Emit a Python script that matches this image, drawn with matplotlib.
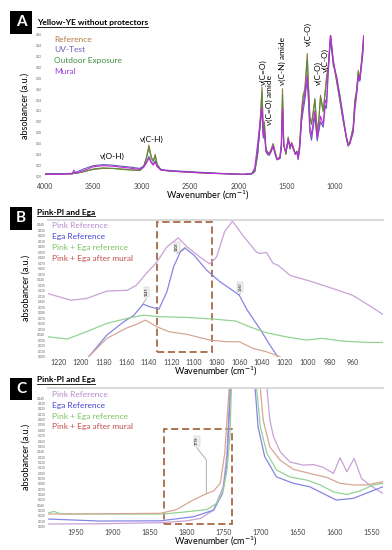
import matplotlib
matplotlib.use('Agg')
import matplotlib.pyplot as plt
from matplotlib.patches import Rectangle
from matplotlib.lines import Line2D

plt.rcParams['font.family'] = ['Lato', 'DejaVu Sans']

W, H = 392, 550

# ---- Panel A: Yellow-YE without protectors ----
wn_a = [4000, 3850, 3720, 3700, 3680, 3600, 3500, 3400, 3300, 3200, 3100, 3020,
        2980, 2950, 2925, 2900, 2880, 2860, 2840, 2800, 2700, 2500, 2300, 2100,
        1950, 1860, 1830, 1800, 1775, 1755, 1742, 1730, 1715, 1700, 1680, 1660,
        1640, 1620, 1600, 1570, 1555, 1543, 1530, 1508, 1484, 1465, 1450, 1432,
        1410, 1395, 1381, 1365, 1346, 1330, 1312, 1300, 1287, 1275, 1260, 1243,
        1225, 1208, 1184, 1165, 1150, 1122, 1100, 1088, 1070, 1046, 1019, 984,
        950, 915, 881, 864, 846, 812, 795, 777, 760, 743, 715, 702]
ref_a = [.004, .004, .004, .005, .005, .008, .012, .014, .014, .013, .011, .011,
         .018, .035, .057, .035, .028, .040, .022, .011, .009, .007, .005, .004,
         .003, .004, .008, .040, .100, .164, .080, .100, .050, .045, .042, .050,
         .060, .045, .032, .035, .060, .161, .060, .040, .072, .050, .062, .054,
         .040, .046, .035, .060, .120, .150, .160, .190, .226, .170, .110, .097,
         .120, .143, .078, .110, .149, .121, .160, .183, .200, .260, .213, .177,
         .140, .103, .072, .060, .063, .090, .140, .158, .195, .180, .232, .263]
uv_a = [.004, .004, .005, .006, .007, .013, .019, .021, .020, .018, .016, .014,
        .018, .026, .036, .026, .022, .028, .018, .012, .010, .008, .006, .004,
        .003, .004, .010, .045, .090, .122, .070, .080, .045, .040, .038, .045,
        .055, .040, .030, .032, .050, .120, .055, .045, .065, .055, .060, .050,
        .042, .045, .030, .050, .100, .120, .140, .160, .175, .140, .080, .066,
        .090, .110, .065, .085, .100, .090, .130, .125, .190, .255, .205, .185,
        .150, .110, .070, .055, .060, .080, .120, .150, .180, .175, .220, .250]
out_a = [.004, .004, .004, .005, .005, .008, .013, .015, .014, .012, .011, .010,
         .016, .033, .052, .033, .027, .037, .021, .011, .009, .007, .005, .004,
         .003, .004, .008, .040, .095, .155, .078, .095, .050, .044, .040, .048,
         .058, .044, .031, .034, .058, .150, .058, .040, .070, .050, .060, .052,
         .040, .045, .034, .058, .115, .145, .155, .185, .215, .165, .105, .095,
         .115, .140, .080, .108, .145, .118, .155, .175, .200, .255, .210, .175,
         .140, .100, .070, .058, .062, .088, .135, .155, .190, .178, .225, .255]
mur_a = [.003, .003, .004, .011, .005, .010, .017, .019, .018, .016, .014, .012,
         .016, .024, .033, .024, .020, .026, .017, .011, .009, .007, .005, .004,
         .003, .005, .015, .060, .100, .128, .075, .085, .048, .042, .040, .046,
         .056, .042, .030, .033, .052, .125, .056, .044, .068, .052, .060, .050,
         .040, .044, .032, .055, .105, .130, .150, .170, .185, .150, .090, .075,
         .100, .120, .070, .090, .110, .095, .140, .135, .200, .262, .215, .180,
         .145, .105, .068, .056, .060, .085, .130, .150, .185, .178, .230, .263]
names_a = ['Reference', 'UV-Test', 'Outdoor Exposure', 'Mural']
line_colors_a = ['#9C7448', '#5F5FAE', '#5A8C3C', '#C02CD8']
text_colors_a = ['#B07A40', '#6B5FB5', '#3F8F3F', '#9B3FE0']

# ---- Panel B: Pink-PI and Ega (1230-930 cm-1) ----
pink_b_wn = [1229, 1209, 1195, 1177, 1159, 1151, 1142, 1133, 1124, 1114, 1106,
             1095, 1086, 1080, 1073, 1066, 1057, 1045, 1042, 1036, 1030, 1026,
             1015, 998, 977, 960, 948, 933]
pink_b = [0.115, 0.103, 0.106, 0.1195, 0.121, 0.130, 0.152, 0.172, 0.200, 0.2165,
          0.200, 0.182, 0.169, 0.182, 0.2275, 0.247, 0.2215, 0.191, 0.188, 0.190,
          0.170, 0.167, 0.148, 0.138, 0.124, 0.112, 0.097, 0.077]
ega_b_wn = [1193, 1177, 1162, 1153, 1145, 1139, 1131, 1124, 1118, 1112, 1108,
            1100, 1089, 1077, 1065, 1060, 1053, 1042, 1033, 1026]
ega_b = [0.0, 0.0395, 0.0637, 0.0758, 0.0958, 0.091, 0.0867, 0.118, 0.164, 0.191,
         0.198, 0.185, 0.158, 0.1365, 0.1195, 0.112, 0.085, 0.0516, 0.0213, 0.0]
mix_b_wn = [1229, 1212, 1195, 1177, 1159, 1145, 1130, 1106, 1083, 1063, 1051,
            1036, 1019, 1001, 987, 969, 948, 933]
mix_b = [0.0364, 0.0322, 0.0455, 0.0607, 0.0698, 0.0758, 0.0728, 0.0716, 0.0686,
         0.0649, 0.0546, 0.0437, 0.0364, 0.0303, 0.0334, 0.0285, 0.026, 0.026]
mural_b_wn = [1193, 1177, 1159, 1151, 1143, 1133, 1122, 1106, 1086, 1071, 1060,
              1048, 1036, 1024]
mural_b = [0.0, 0.0334, 0.0528, 0.0588, 0.0667, 0.0546, 0.0455, 0.0406, 0.0303,
           0.0273, 0.0273, 0.0152, 0.009, 0.0]

# ---- Panel C: Pink-PI and Ega (1990-1535 cm-1) ----
pink_c_wn = [1987, 1918, 1836, 1800, 1782, 1764, 1751, 1746, 1742, 1725, 1692,
             1688, 1683, 1674, 1661, 1643, 1629, 1616, 1602, 1593, 1584, 1574,
             1564, 1553, 1535]
pink_c = [0.005, 0.0055, 0.0075, 0.011, 0.0155, 0.031, 0.075, 0.137, 0.26, 0.6,
          0.26, 0.199, 0.168, 0.14, 0.121, 0.115, 0.116, 0.111, 0.0995, 0.129,
          0.1026, 0.1275, 0.090, 0.0778, 0.062]
ega_c_wn = [1987, 1918, 1836, 1791, 1764, 1752, 1746, 1741, 1725, 1708, 1704,
            1695, 1679, 1656, 1634, 1616, 1598, 1575, 1553, 1535]
ega_c = [0.0143, 0.0106, 0.011, 0.0187, 0.031, 0.062, 0.118, 0.26, 0.6, 0.26,
         0.187, 0.131, 0.093, 0.081, 0.0746, 0.062, 0.0498, 0.053, 0.065, 0.0746]
mix_c_wn = [1987, 1980, 1970, 1832, 1800, 1773, 1760, 1751, 1746, 1742, 1740,
            1725, 1706, 1701, 1692, 1679, 1661, 1638, 1620, 1602, 1584, 1566,
            1548, 1535]
mix_c = [0.026, 0.0285, 0.0236, 0.0236, 0.028, 0.032, 0.0435, 0.068, 0.106, 0.168,
         0.26, 0.6, 0.26, 0.187, 0.137, 0.106, 0.093, 0.087, 0.078, 0.065, 0.060,
         0.067, 0.078, 0.081]
mural_c_wn = [1987, 1836, 1814, 1796, 1778, 1764, 1755, 1749, 1743, 1725, 1701,
              1697, 1688, 1674, 1656, 1634, 1611, 1593, 1575, 1557, 1535]
mural_c = [0.0236, 0.025, 0.032, 0.0467, 0.059, 0.067, 0.081, 0.137, 0.26, 0.6,
           0.26, 0.199, 0.149, 0.124, 0.107, 0.0995, 0.092, 0.081, 0.078, 0.078,
           0.084]

names_bc = ['Pink Reference', 'Ega Reference', 'Pink + Ega reference',
            'Pink + Ega after mural']
line_colors_bc = ['#C8A2D6', '#8585E6', '#94D394', '#D6A797']
text_colors_bc = ['#B98ACB', '#4545D2', '#7CC35F', '#C0504D']

fig = plt.figure(figsize=(W / 100, H / 100), dpi=100)


def px_axes(l, t, r, b):
    return fig.add_axes([l / W, 1 - b / H, (r - l) / W, (b - t) / H])


def fig_text(x, y, s, **kw):
    return fig.text(x / W, 1 - y / H, s, **kw)


def panel_head(letter, y_box, title, y_title):
    fig.add_artist(Rectangle((10 / W, 1 - (y_box + 22) / H), 22 / W, 22 / H,
                             transform=fig.transFigure, fc='black', ec='none'))
    fig_text(21, y_box + 11, letter, color='white', fontsize=11, fontweight='bold',
             ha='center', va='center')
    return fig_text(37, y_title, title, fontsize=6.0, fontweight='bold',
                    ha='left', va='center')


def style_axes(ax, top_line, xpad):
    for side in ['left', 'right', 'bottom']:
        ax.spines[side].set_visible(False)
    if top_line:
        ax.spines['top'].set_color('#D9D9D9')
        ax.spines['top'].set_linewidth(1.4)
    else:
        ax.spines['top'].set_visible(False)
    ax.tick_params(length=0)
    ax.tick_params(axis='x', labelsize=5, pad=xpad, colors='#404040')
    ax.tick_params(axis='y', labelsize=2.2, pad=2, colors='#606060')
    ax.set_xlabel('Wavenumber (cm$^{-1}$)', fontsize=6.5, labelpad=-0.5)
    ax.set_ylabel('absobancer (a.u.)', fontsize=6.5, labelpad=5)
    ax.patch.set_alpha(0)


# ===== Panel A =====
titles = []
titles.append(panel_head('A', 11.5, 'Yellow-YE without protectors', 23))
axA = px_axes(45, 35, 364, 176)
for ys, c in zip([ref_a, out_a, uv_a, mur_a],
                 [line_colors_a[0], line_colors_a[2], line_colors_a[1], line_colors_a[3]]):
    axA.plot(wn_a, ys, color=c, lw=0.8)
axA.set_xlim(4000, 700)
axA.set_ylim(0, 0.26)
axA.set_xticks([4000, 3500, 3000, 2500, 2000, 1500, 1000])
axA.set_yticks([i * 0.02 for i in range(14)])
axA.set_yticklabels([f'{i * 0.02:.2f}' for i in range(14)])
style_axes(axA, False, 5)
axA.xaxis.label.set_position((0.51, 0))
for i, (n, c) in enumerate(zip(names_a, text_colors_a)):
    fig_text(54, 39 + i * 10.8, n, color=c, fontsize=6.0, ha='left', va='center')

ann_a = [('ν(C=O)', 1745, 0.168), ('ν(C=O) amide', 1683, 0.094),
         ('ν(C-N) amide', 1542, 0.168), ('ν(C-O)', 1277, 0.240),
         ('ν(C-O)', 1176, 0.168), ('ν(C-O)', 1096, 0.192)]
for s, x, y in ann_a:
    axA.text(x, y, s, rotation=90, fontsize=6, ha='center', va='bottom')
axA.text(3300, 0.037, 'ν(O-H)', fontsize=6, ha='center', va='center')
axA.text(2900, 0.068, 'ν(C-H)', fontsize=6, ha='center', va='center')


def draw_bc(ax, series, box, ylim, nticks):
    for (x, y), c in zip(series, line_colors_bc):
        ax.plot(x, y, color=c, lw=0.9)
    ax.add_patch(Rectangle((box[0], box[2]), box[1] - box[0], box[3] - box[2],
                           fill=False, ec='#A86A45', lw=1.3, ls=(0, (4, 2))))
    ax.set_ylim(*ylim)
    ticks = [i * 0.01 for i in range(nticks)]
    ax.set_yticks(ticks)
    ax.set_yticklabels([f'{t:.3f}' for t in ticks])
    style_axes(ax, True, 1.5)


def legend_bc(y0):
    for i, (n, c) in enumerate(zip(names_bc, text_colors_bc)):
        fig_text(52, y0 + i * 10.8, n, color=c, fontsize=6.0, ha='left', va='center')


def peak_label(ax, s, x, y, x0, y0, x1=None, y1=None):
    ax.text(x, y, s, rotation=90, fontsize=2.6, ha='center', va='center',
            bbox=dict(boxstyle='square,pad=0.25', fc='#F0F0F0', ec='#C0C0C0', lw=0.3))
    xs = [x0] if x1 is None else [x0, x1]
    ys = [y0] if y1 is None else [y0, y1]
    ax.plot([x] + xs, [y - 0.012] + ys, color='#909090', lw=0.5)


# ===== Panel B =====
titles.append(panel_head('B', 207.5, 'Pink-PI and Ega', 212))
axB = px_axes(48, 219.5, 383, 356.7)
draw_bc(axB, [(pink_b_wn, pink_b), (ega_b_wn, ega_b), (mix_b_wn, mix_b),
              (mural_b_wn, mural_b)], (1133, 1084, 0.0086, 0.245), (0, 0.25), 25)
axB.set_xlim(1229, 933)
axB.set_xticks(list(range(1220, 950, -20)))
legend_bc(226)
peak_label(axB, '1145', 1142, 0.118, 1145, 0.097)
peak_label(axB, '1108', 1115, 0.200, 1108, 0.199)
peak_label(axB, '1060', 1059, 0.127, 1060, 0.113)

# ===== Panel C =====
titles.append(panel_head('C', 378, 'Pink-PI and Ega', 379.5))
axC = px_axes(48, 387.5, 383, 526.7)
draw_bc(axC, [(pink_c_wn, pink_c), (ega_c_wn, ega_c), (mix_c_wn, mix_c),
              (mural_c_wn, mural_c)], (1831, 1739, 0.0045, 0.1817), (0, 0.26), 25)
axC.set_xlim(1988, 1535)
axC.set_xticks(list(range(1950, 1540, -50)))
legend_bc(394.5)
peak_label(axC, '1778', 1787, 0.160, 1774, 0.125, 1774, 0.063)

# underline titles
fig.canvas.draw()
r = fig.canvas.get_renderer()
for t in titles:
    bb = t.get_window_extent(r)
    y = bb.y0 - 0.5
    fig.add_artist(Line2D([bb.x0 / W, bb.x1 / W], [y / H, y / H],
                          transform=fig.transFigure, color='black', lw=0.6))

fig.savefig('out.png', dpi=100, facecolor='white')
